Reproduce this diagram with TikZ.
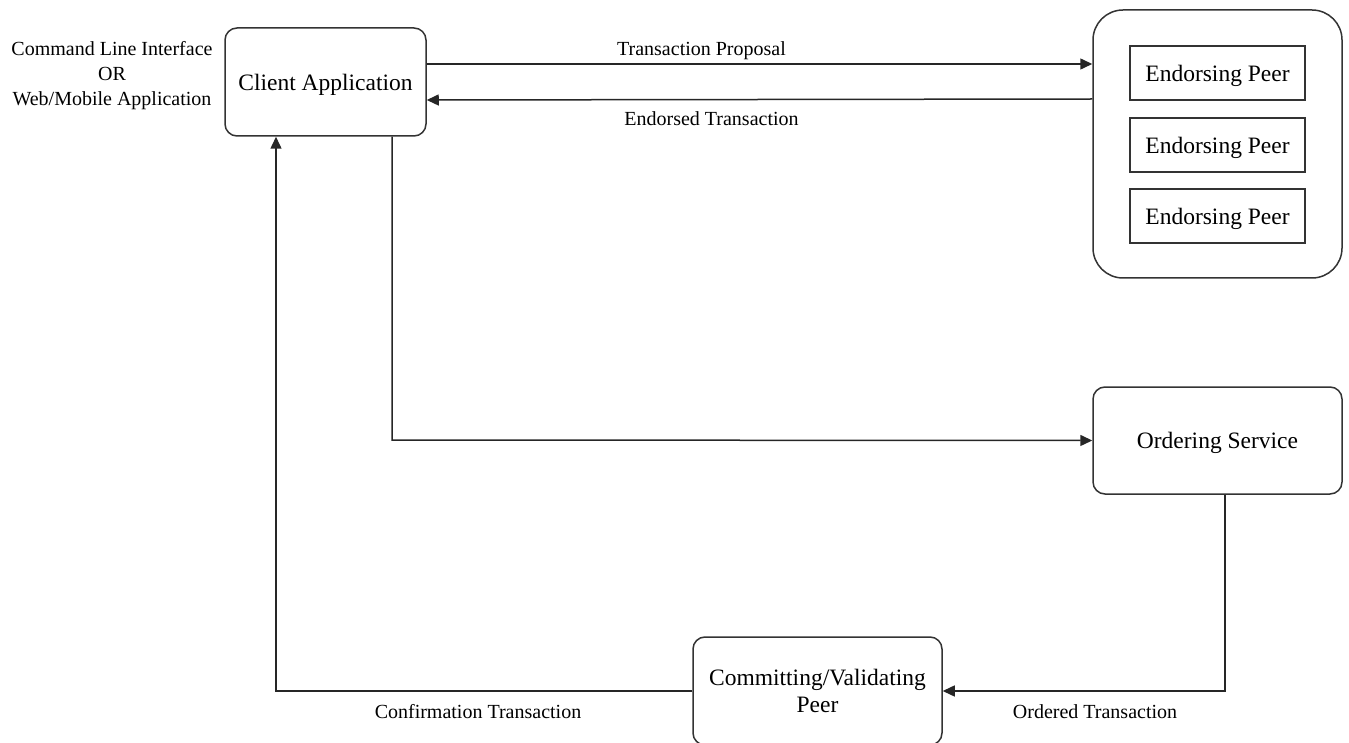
\documentclass[tikz,border=0pt]{standalone}
\usepackage{fontspec}
\setmainfont{Liberation Serif}
\usetikzlibrary{arrows.meta}
\begin{document}
\begin{tikzpicture}[x=1pt,y=-1pt,
  box/.style={draw=black!80,line width=1.5pt,rounded corners=12pt,fill=white,inner sep=0pt,align=center,text depth=0pt,font=\fontsize{23.5}{27}\selectfont},
  peer/.style={draw=black!80,line width=1.5pt,fill=white,inner sep=0pt,align=center,text depth=0pt,font=\fontsize{23.5}{27}\selectfont},
  conn/.style={draw=black!85,line width=1.5pt,-{Triangle[length=12pt,width=11pt]}},
  lbl/.style={font=\fontsize{20}{23}\selectfont,inner sep=0pt,align=center}]
\useasboundingbox (0,0) rectangle (1349,743);
\node[box,minimum width=201pt,minimum height=108pt] (client) at (325.5,82) {Client Application};
\node[box,rounded corners=30pt,minimum width=249pt,minimum height=268pt] (group) at (1217.5,144) {};
\node[peer,minimum width=175pt,minimum height=54pt] (p1) at (1217.5,73) {Endorsing Peer};
\node[peer,minimum width=175pt,minimum height=54pt] (p2) at (1217.5,145) {Endorsing Peer};
\node[peer,minimum width=175pt,minimum height=54pt] (p3) at (1217.5,216) {Endorsing Peer};
\node[box,minimum width=249pt,minimum height=107pt] (order) at (1217.5,440.5) {Ordering Service};
\node[box,minimum width=249pt,minimum height=108pt] (commit) at (817.5,691) {Committing/Validating\\Peer};
\node[lbl,font=\fontsize{20}{25}\selectfont] (cli) at (112,76) {Command Line Interface\\OR\\Web/Mobile Application};
\coordinate (c1) at (392,440);
\coordinate (c2) at (1225,691);
\coordinate (c3) at (276,691);
\draw[conn] (client.east |- 0,64) -- (group.west |- 0,64) node[lbl,midway,above=3pt,xshift=-58pt] (l1) {Transaction Proposal};
\draw[conn] (group.west |- 0,99) -- (client.east |- 0,100) node[lbl,midway,below=11pt,xshift=-48pt] (l2) {Endorsed Transaction};
\draw[conn] (client.south -| c1) -- (c1) -- (order.west);
\draw[conn] (order.south -| c2) -- (c2) -- (commit.east);
\draw[conn] (commit.west) -- (c3) -- (client.south -| c3);
\node[lbl] (l3) at (1095,712) {Ordered Transaction};
\node[lbl] (l4) at (478,712) {Confirmation Transaction};
\end{tikzpicture}
\end{document}
